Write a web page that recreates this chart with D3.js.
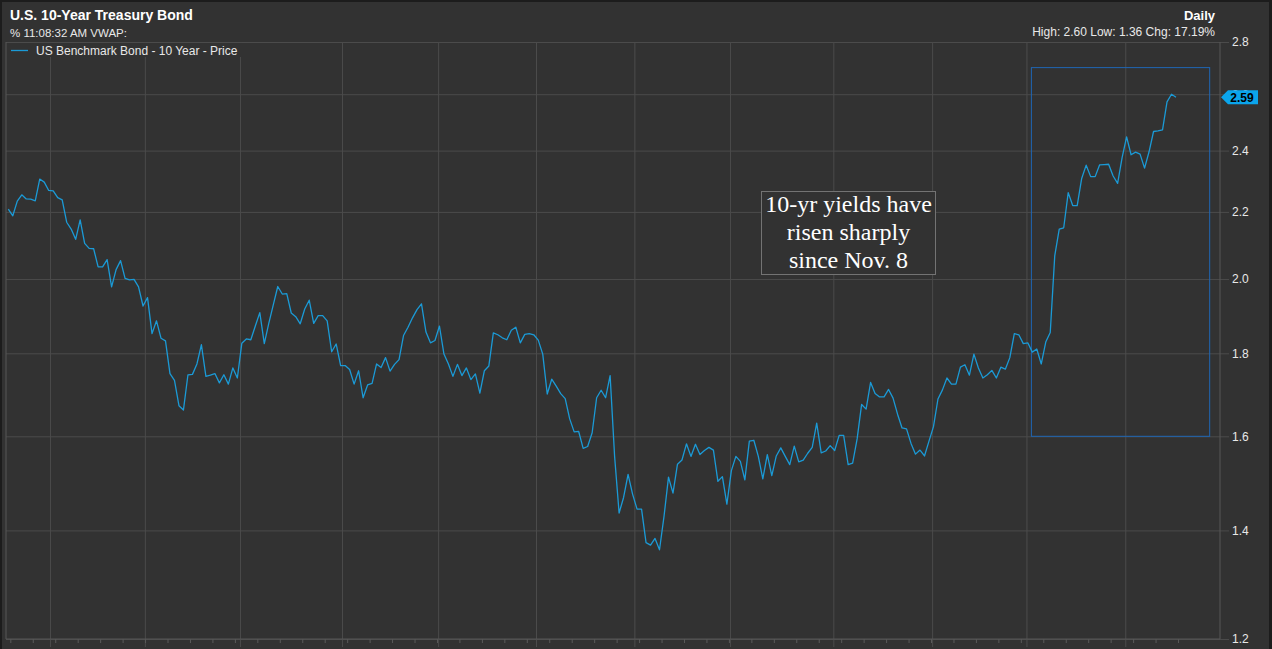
<!DOCTYPE html>
<html>
<head>
<meta charset="utf-8">
<script src="https://cdn.jsdelivr.net/npm/d3@7"></script>
<style>
  body { margin: 0; background: #1c1c1c; }
  svg { display: block; }
</style>
</head>
<body>
<script>
// daily closes, 10-yr US treasury yield, one per trading day
var yields = [
  2.209, 2.188, 2.234, 2.254, 2.241, 2.240, 2.235, 2.305, 2.295, 2.268,
  2.267, 2.245, 2.238, 2.168, 2.147, 2.116, 2.175, 2.104, 2.089, 2.088,
  2.035, 2.035, 2.056, 1.978, 2.027, 2.053, 2.002, 1.998, 1.999, 1.978,
  1.925, 1.948, 1.851, 1.885, 1.839, 1.832, 1.749, 1.732, 1.671, 1.661,
  1.746, 1.747, 1.773, 1.822, 1.742, 1.745, 1.749, 1.726, 1.746, 1.723,
  1.763, 1.738, 1.826, 1.837, 1.835, 1.871, 1.907, 1.825, 1.878, 1.928,
  1.979, 1.958, 1.959, 1.906, 1.896, 1.877, 1.917, 1.941, 1.878, 1.899,
  1.899, 1.885, 1.804, 1.824, 1.769, 1.769, 1.759, 1.723, 1.756, 1.690,
  1.721, 1.725, 1.773, 1.764, 1.789, 1.755, 1.772, 1.784, 1.846, 1.868,
  1.893, 1.915, 1.931, 1.855, 1.827, 1.833, 1.871, 1.798, 1.773, 1.742,
  1.772, 1.744, 1.763, 1.734, 1.748, 1.701, 1.756, 1.768, 1.853, 1.848,
  1.840, 1.835, 1.860, 1.868, 1.827, 1.849, 1.851, 1.848, 1.834, 1.798,
  1.699, 1.735, 1.718, 1.700, 1.688, 1.640, 1.610, 1.611, 1.573, 1.577,
  1.608, 1.690, 1.708, 1.690, 1.744, 1.555, 1.435, 1.467, 1.516, 1.474,
  1.443, 1.443, 1.376, 1.371, 1.384, 1.362, 1.428, 1.510, 1.476, 1.538,
  1.547, 1.583, 1.555, 1.582, 1.559, 1.568, 1.575, 1.569, 1.501, 1.511,
  1.453, 1.524, 1.555, 1.544, 1.504, 1.589, 1.591, 1.555, 1.506, 1.559,
  1.513, 1.556, 1.574, 1.555, 1.537, 1.578, 1.543, 1.547, 1.562, 1.575,
  1.630, 1.563, 1.567, 1.579, 1.568, 1.602, 1.602, 1.537, 1.540, 1.594,
  1.674, 1.663, 1.727, 1.700, 1.692, 1.692, 1.710, 1.689, 1.651, 1.619,
  1.617, 1.584, 1.560, 1.569, 1.556, 1.589, 1.622, 1.687, 1.709, 1.738,
  1.723, 1.723, 1.765, 1.771, 1.745, 1.798, 1.763, 1.738, 1.746, 1.757,
  1.738, 1.765, 1.760, 1.789, 1.851, 1.848, 1.825, 1.827, 1.803, 1.811,
  1.773, 1.829, 1.854, 2.067, 2.147, 2.151, 2.261, 2.220, 2.220, 2.307,
  2.351, 2.313, 2.313, 2.352, 2.353, 2.354, 2.315, 2.291, 2.376, 2.447,
  2.386, 2.395, 2.388, 2.341, 2.396, 2.466, 2.468, 2.472, 2.572, 2.600,
  2.589
];

// month boundaries (in trading-day index) for the vertical grid
var monthTicks = [9.3, 30.4, 51.6, 74.3, 95.7, 117.5, 139.4, 160.7, 183.7, 205.7, 226.7, 248.7];
var yTicks = [1.2, 1.4, 1.6, 1.8, 2.0, 2.2, 2.4, 2.6, 2.8];

var title = "U.S. 10-Year Treasury Bond",
    subtitle = "% 11:08:32 AM VWAP:",
    period = "Daily",
    stats = "High: 2.60 Low: 1.36 Chg: 17.19%",
    seriesName = "US Benchmark Bond - 10 Year - Price",
    note = ["10-yr yields have", "risen sharply", "since Nov. 8"];

// zoomed window after the election
var boxFrom = 227.8, boxTo = 267.5, boxLow = 1.6, boxHigh = 2.7;

var W = 1272, H = 649;
var pLeft = 6, pRight = 1220, pTop = 42, pBottom = 639;
var gridColor = "#4b4b4b", lineColor = "#1b9ad6", textColor = "#e8e8e8";
var sans = "'Liberation Sans', Arial, sans-serif";

var svg = d3.select("body").append("svg")
    .attr("width", W)
    .attr("height", H);

svg.append("rect")
    .attr("x", 1).attr("y", 1)
    .attr("width", W - 3).attr("height", H)
    .attr("fill", "#323232")
    .attr("stroke", "#1c1c1c")
    .attr("stroke-width", 2);

var x = d3.scaleLinear()
    .domain([0, yields.length - 1])
    .range([8.3, 1176]);

var y = d3.scaleLog()
    .domain([1.2, 2.8])
    .range([pBottom, pTop]);

// horizontal grid + right axis labels
var yAxis = d3.axisRight(y)
    .tickValues(yTicks)
    .tickFormat(d3.format(".1f"))
    .tickSize(0)
    .tickPadding(3);

var gy = svg.append("g")
    .attr("transform", "translate(" + (pRight + 9) + ",0)")
    .call(yAxis);
gy.select(".domain").remove();
gy.selectAll(".tick line")
    .attr("stroke", gridColor)
    .attr("x1", 0)
    .attr("x2", -(pRight + 9 - pLeft));
gy.selectAll(".tick text")
    .attr("fill", textColor)
    .style("font-family", sans)
    .style("font-size", "12px");

// vertical month grid
var xMajor = d3.axisBottom(x)
    .tickValues(monthTicks)
    .tickFormat("")
    .tickSize(8);
var gx = svg.append("g")
    .attr("transform", "translate(0," + pBottom + ")")
    .call(xMajor);
gx.select(".domain").remove();
gx.selectAll(".tick line")
    .attr("stroke", gridColor)
    .attr("y1", -(pBottom - pTop));

// weekly minor ticks
var xMinor = d3.axisBottom(x)
    .tickValues(d3.range(0.45, yields.length, 5))
    .tickFormat("")
    .tickSize(4);
var gm = svg.append("g")
    .attr("transform", "translate(0," + pBottom + ")")
    .call(xMinor);
gm.select(".domain").remove();
gm.selectAll(".tick line").attr("stroke", "#5a5a5a");

// frame
svg.append("path")
    .attr("d", "M" + pLeft + "," + pTop + "V" + pBottom + "H" + pRight + "V" + pTop)
    .attr("fill", "none")
    .attr("stroke", "#575757");

// highlight box
svg.append("rect")
    .attr("x", x(boxFrom))
    .attr("y", y(boxHigh))
    .attr("width", x(boxTo) - x(boxFrom))
    .attr("height", y(boxLow) - y(boxHigh))
    .attr("fill", "none")
    .attr("stroke", "#1f66b5")
    .attr("stroke-width", 1);

// legend (covers grid)
svg.append("rect")
    .attr("x", pLeft + 1).attr("y", pTop + 1)
    .attr("width", 240).attr("height", 14)
    .attr("fill", "#323232");
svg.append("line")
    .attr("x1", 11).attr("x2", 28)
    .attr("y1", 50.5).attr("y2", 50.5)
    .attr("stroke", lineColor)
    .attr("stroke-width", 1.3);
svg.append("text")
    .attr("x", 36).attr("y", 54.5)
    .attr("fill", textColor)
    .style("font-family", sans)
    .style("font-size", "12px")
    .text(seriesName);

// the series
var line = d3.line()
    .x(function(d, i) { return x(i); })
    .y(function(d) { return y(d); });

svg.append("path")
    .datum(yields)
    .attr("d", line)
    .attr("fill", "none")
    .attr("stroke", lineColor)
    .attr("stroke-width", 1.3)
    .attr("stroke-linejoin", "round");

// annotation
var noteBox = svg.append("g");
noteBox.append("rect")
    .attr("x", 761.5).attr("y", 191.5)
    .attr("width", 174).attr("height", 83)
    .attr("fill", "#323232")
    .attr("stroke", "#737373");
noteBox.selectAll("text")
    .data(note)
    .enter()
    .append("text")
    .attr("x", 848.5)
    .attr("y", function(d, i) { return 212 + i * 28; })
    .attr("text-anchor", "middle")
    .attr("fill", "#ffffff")
    .style("font-family", "'Liberation Serif', 'Times New Roman', serif")
    .style("font-size", "24px")
    .text(function(d) { return d; });

// header
svg.append("text")
    .attr("x", 10).attr("y", 20)
    .attr("fill", "#ffffff")
    .style("font-family", sans)
    .style("font-size", "14px")
    .style("font-weight", "bold")
    .text(title);
svg.append("text")
    .attr("x", 10).attr("y", 37)
    .attr("fill", textColor)
    .style("font-family", sans)
    .style("font-size", "11.5px")
    .text(subtitle);
svg.append("text")
    .attr("x", 1215).attr("y", 20)
    .attr("text-anchor", "end")
    .attr("fill", "#ffffff")
    .style("font-family", sans)
    .style("font-size", "13px")
    .style("font-weight", "bold")
    .text(period);
svg.append("text")
    .attr("x", 1215).attr("y", 36)
    .attr("text-anchor", "end")
    .attr("fill", textColor)
    .style("font-family", sans)
    .style("font-size", "12px")
    .text(stats);

// last value tag
var last = yields[yields.length - 1];
var ty = y(last);
svg.append("path")
    .attr("d", "M" + (pRight + 1) + "," + ty + "L" + (pRight + 8) + "," + (ty - 7) + "H1258V" + (ty + 7) + "H" + (pRight + 8) + "Z")
    .attr("fill", "#0ba5ec");
svg.append("text")
    .attr("x", 1242).attr("y", ty + 4.5)
    .attr("text-anchor", "middle")
    .attr("fill", "#000000")
    .style("font-family", sans)
    .style("font-size", "12px")
    .style("font-weight", "bold")
    .text(d3.format(".2f")(last));
</script>
</body>
</html>
